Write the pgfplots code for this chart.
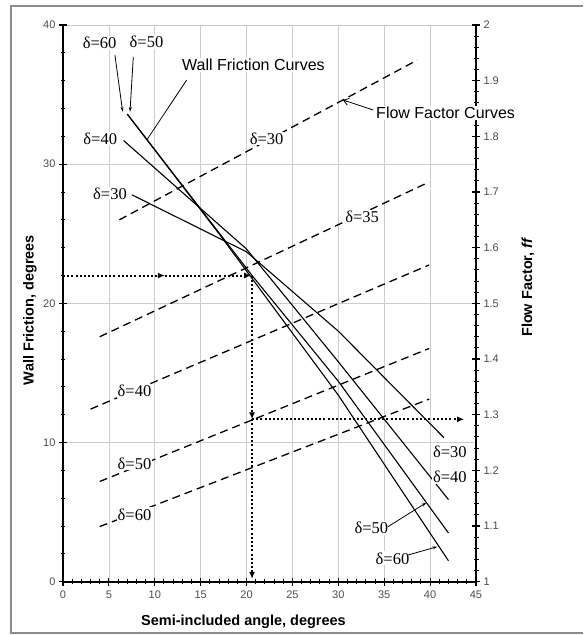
\documentclass[border=0pt]{standalone}
\usepackage{pgfplots}
\pgfplotsset{compat=1.18}
\usepackage{fontspec}
\setmainfont{Liberation Sans}
\newfontfamily\serif{Liberation Serif}
\usetikzlibrary{arrows.meta}

% Wall friction curves (x = semi-included angle, y = wall friction, degrees)
\pgfplotstableread{
x y
7.5 27.8
20 23.7
30 18.0
41.5 10.35
}\wfthirty
\pgfplotstableread{
x y
6.6 31.7
20 23.9
30 15.8
42 5.9
}\wfforty
\pgfplotstableread{
x y
7 33.6
20.6 22.0
30 14.4
42 3.5
}\wffifty
\pgfplotstableread{
x y
7 33.6
17 25.0
30 13.4
42 1.5
}\wfsixty

\tikzset{dlab/.style={fill=white, inner sep=1pt, font=\serif\fontsize{16.5}{16.5}\selectfont},
  dot/.style={black, line width=2pt, dash pattern=on 2pt off 2.2pt, -{Latex[length=7pt,width=6pt]}}}

\begin{document}
\begin{tikzpicture}[x=1pt,y=1pt]
\begin{axis}[
  set layers,
  at={(0,0)}, anchor=south west,
  width=413pt, height=556.7pt, scale only axis,
  xmin=0, xmax=45, ymin=0, ymax=40,
  axis x line*=bottom, axis y line*=left,
  axis line style={line width=1.8pt, -},
  xtick={0,5,...,45}, ytick={0,10,...,40},
  minor x tick num=4, minor y tick num=4,
  tick align=center,
  major tick length=8pt, minor tick length=5pt,
  major tick style={black, line width=1.2pt},
  minor tick style={black, line width=1.0pt},
  xmajorgrids, ymajorgrids,
  major grid style={black!20, line width=0.7pt},
  tick label style={font=\fontsize{11}{13}\selectfont, text=black!70},
  xticklabel style={yshift=-2pt},
  /pgf/number format/assume math mode=true,
  xlabel={\bfseries Semi-included angle, degrees},
  ylabel={\bfseries Wall Friction, degrees},
  label style={font=\fontsize{14.5}{16}\selectfont},
  xlabel style={at={(axis description cs:0.437,-0.072)}, anchor=center},
  ylabel style={at={(axis description cs:-0.080,0.488)}, anchor=center},
  clip=false,
]
\addplot[black, line width=1.1pt, on layer=pre main] table {\wfthirty};
\addplot[black, line width=1.1pt, on layer=pre main] table {\wfforty};
\addplot[black, line width=1.1pt, on layer=pre main] table {\wffifty};
\addplot[black, line width=1.1pt, on layer=pre main] table {\wfsixty};

% dotted construction lines
\addplot[dot] coordinates {(0,22) (11.1,22)};
\addplot[dot] coordinates {(11.1,22) (20.5,22)};
\addplot[dot] coordinates {(20.6,22) (20.6,11.67)};
\addplot[dot] coordinates {(20.6,11.67) (20.6,0.2)};
\addplot[dot] coordinates {(20.6,11.67) (43.7,11.67)};

% labels of wall friction curves
\begin{pgfonlayer}{axis foreground}
\node[dlab] at (axis cs:4.0,38.7) {δ=60};
\node[dlab] at (axis cs:9.1,38.8) {δ=50};
\draw[black, line width=0.8pt, -{Stealth[length=5pt,width=3pt]}] (axis cs:5.66,37.83) -- (axis cs:6.5,33.76);
\draw[black, line width=0.8pt, -{Stealth[length=5pt,width=3pt]}] (axis cs:7.66,37.71) -- (axis cs:7.3,33.76);
\node[dlab] at (axis cs:4.06,31.85) {δ=40};
\node[dlab] at (axis cs:5.12,27.9) {δ=30};
\draw[black, line width=0.8pt] (axis cs:13.47,36.04) -- (axis cs:9.12,31.73);
\node[fill=white, inner sep=1pt, font=\fontsize{16}{18}\selectfont] at (axis cs:20.75,37.12) {Wall Friction Curves};
\node[dlab] at (axis cs:42.16,9.34) {δ=30};
\node[dlab] at (axis cs:42.16,7.54) {δ=40};
\node[dlab] at (axis cs:33.6,3.88) {δ=50};
\draw[black, line width=0.8pt, -{Stealth[length=5pt,width=3pt]}] (axis cs:35.4,3.95) -- (axis cs:39.6,5.68);
\node[dlab] at (axis cs:35.9,1.68) {δ=60};
\draw[black, line width=0.8pt, -{Stealth[length=5pt,width=3pt]}] (axis cs:37.6,1.92) -- (axis cs:40.8,2.52);
\end{pgfonlayer}
\end{axis}

\begin{axis}[
  set layers,
  at={(0,0)}, anchor=south west,
  width=413pt, height=556.7pt, scale only axis,
  xmin=0, xmax=45, ymin=1, ymax=2,
  axis x line=none, axis y line*=right,
  axis line style={line width=1.8pt, -},
  ytick={1,1.1,1.2,1.3,1.4,1.5,1.6,1.7,1.8,1.9,2},
  minor y tick num=4,
  tick align=center,
  major tick length=8pt, minor tick length=5pt,
  major tick style={black, line width=1.2pt},
  minor tick style={black, line width=1.0pt},
  tick label style={font=\fontsize{11}{13}\selectfont, text=black!70},
  /pgf/number format/assume math mode=true,
  ylabel={\bfseries Flow Factor, \textit{ff}},
  label style={font=\fontsize{14.5}{16}\selectfont},
  ylabel style={at={(axis description cs:1.126,0.529)}, anchor=center},
  clip=false,
]
% flow factor curves (ff vs semi-included angle)
\addplot[black, line width=1.3pt, dash pattern=on 8pt off 5pt, on layer=pre main] coordinates {(6.14,1.650) (38.6,1.937)};
\addplot[black, line width=1.3pt, dash pattern=on 8pt off 5pt, on layer=pre main] coordinates {(4.0,1.440) (39.9,1.718)};
\addplot[black, line width=1.3pt, dash pattern=on 8pt off 5pt, on layer=pre main] coordinates {(3.0,1.310) (39.9,1.569)};
\addplot[black, line width=1.3pt, dash pattern=on 8pt off 5pt, on layer=pre main] coordinates {(4.0,1.180) (39.9,1.419)};
\addplot[black, line width=1.3pt, dash pattern=on 8pt off 5pt, on layer=pre main] coordinates {(4.0,1.099) (39.9,1.328)};

\begin{pgfonlayer}{axis foreground}
\node[dlab] at (axis cs:22.19,1.796) {δ=30};
\node[dlab] at (axis cs:32.6,1.655) {δ=35};
\node[dlab] at (axis cs:7.79,1.343) {δ=40};
\node[dlab] at (axis cs:7.79,1.2125) {δ=50};
\node[dlab] at (axis cs:7.79,1.121) {δ=60};
\draw[black, line width=0.8pt, -{Straight Barb[length=5pt,width=7pt]}] (axis cs:33.81,1.8473) -- (axis cs:30.5,1.8653);
\node[fill=white, inner sep=1pt, font=\fontsize{16}{18}\selectfont, anchor=west] at (axis cs:34.0,1.8425) {Flow Factor Curves};
\end{pgfonlayer}
\end{axis}

\draw[black!45, line width=1.5pt] (520,575.7) -- (-52,575.7) -- (-52,-51.3) -- (520,-51.3);
\path[use as bounding box] (-63,-53.3) rectangle (517,581.7);
\end{tikzpicture}
\end{document}
